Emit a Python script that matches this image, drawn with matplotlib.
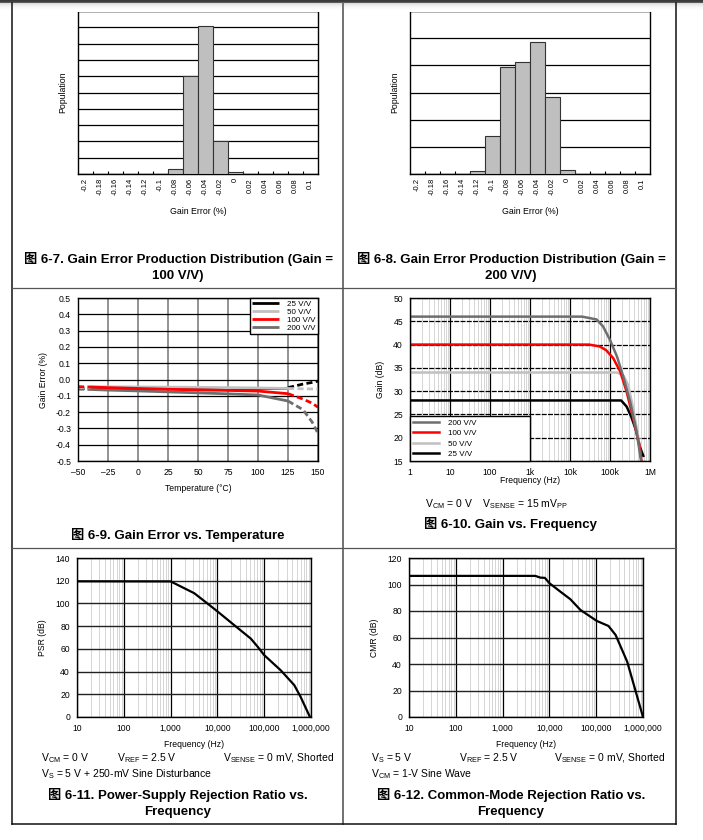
import matplotlib.pyplot as plt
import numpy as np
from matplotlib.lines import Line2D
from matplotlib.ticker import LogLocator, NullFormatter

plt.rcParams['font.family'] = ['Liberation Sans', 'Noto Sans CJK SC']
plt.rcParams['mathtext.default'] = 'regular'
plt.rcParams['axes.linewidth'] = 1.0

W, H = 703, 840

# ---- data ----
bin_labels = ['-0.2', '-0.18', '-0.16', '-0.14', '-0.12', '-0.1', '-0.08', '-0.06',
              '-0.04', '-0.02', '0', '0.02', '0.04', '0.06', '0.08', '0.1']
pop_gain100 = [0, 0, 0, 0, 0, 0, 0.3, 6.0, 9.1, 2.0, 0.1, 0, 0, 0, 0, 0]
pop_gain200 = [0, 0, 0, 0, 0.12, 1.41, 3.94, 4.13, 4.85, 2.85, 0.16, 0, 0, 0, 0, 0]

temp_c = [-50, -40, -25, 0, 25, 50, 75, 100, 125, 137.5, 145, 150]
ge_25 = [-0.05, -0.05, -0.05, -0.05, -0.05, -0.05, -0.05, -0.05, -0.05, -0.028, -0.018, -0.01]
ge_50 = [-0.045, -0.045, -0.045, -0.046, -0.047, -0.048, -0.05, -0.052, -0.055, -0.057, -0.058, -0.058]
ge_100 = [-0.044, -0.046, -0.05, -0.055, -0.06, -0.064, -0.067, -0.071, -0.087, -0.12, -0.145, -0.17]
ge_200 = [-0.059, -0.061, -0.065, -0.07, -0.076, -0.082, -0.088, -0.095, -0.132, -0.185, -0.26, -0.33]

f_g200 = [1, 2e4, 4.6e4, 6.7e4, 1e5, 1.5e5, 2.15e5, 3.2e5, 4.6e5, 6e5]
g_200 = [46, 46, 45.4, 43.9, 41.0, 37.4, 33.1, 27.7, 21.3, 15]
f_g100 = [1, 3e4, 5.5e4, 8e4, 1.2e5, 1.8e5, 2.6e5, 3.8e5, 5.6e5, 6.1e5]
g_100 = [40, 40, 39.6, 38.8, 37.1, 34.2, 29.9, 24.2, 17.7, 15]
f_g50 = [1, 1.5e5, 2.15e5, 2.85e5, 3.8e5, 5e5, 6.1e5]
g_50 = [34, 34, 33.4, 31.3, 26.3, 20.5, 15]
f_g25 = [1, 1.9e5, 2.6e5, 3.4e5, 4.6e5, 5.6e5, 6.8e5]
g_25 = [28, 28, 26.7, 24.5, 21.3, 18, 16.1]

f_psr = [10, 1000, 3.2e3, 6.1e3, 1e4, 2.27e4, 5.18e4, 7.2e4, 1e5, 2.27e5, 4.4e5, 6e5, 9.5e5]
psr_db = [119.5, 119.4, 109, 100, 93, 81, 69, 62, 54.5, 41, 28, 17.7, 0]

f_cmr = [10, 5e3, 6.4e3, 8e3, 1e4, 1.7e4, 2.8e4, 4.6e4, 1.03e5, 1.83e5, 2.6e5, 4.6e5, 1e6]
cmr_db = [106.5, 106.5, 105.2, 105, 101, 94.7, 88.9, 80.8, 72.5, 68.7, 61.9, 41.7, 0]

freq_ticks = [10, 100, 1000, 10000, 100000, 1000000]
freq_labels = ['10', '100', '1,000', '10,000', '100,000', '1,000,000']
gain_freq_ticks = [1, 10, 100, 1e3, 1e4, 1e5, 1e6]
gain_freq_labels = ['1', '10', '100', '1k', '10k', '100k', '1M']

DARK = '#6e6e6e'
LIGHT = '#c0c0c0'
TICK_FS = 6.2
CAP_FS = 9.5
COND_FS = 7.5

fig = plt.figure(figsize=(W / 100, H / 100), dpi=100)


def px_axes(x0, y0, x1, y1):
    return fig.add_axes([x0 / W, 1 - y1 / H, (x1 - x0) / W, (y1 - y0) / H])


def ftext(x, y, s, **kw):
    kw.setdefault('ha', 'center')
    kw.setdefault('va', 'center')
    fig.text(x / W, 1 - y / H, s, **kw)


def fline(xs, ys, **kw):
    fig.add_artist(Line2D([x / W for x in xs], [1 - y / H for y in ys], **kw))


def draw_hist(ax, pop, ymax):
    idx = np.arange(len(bin_labels))
    ax.bar(idx, pop, width=1.0, color='#bfbfbf', edgecolor='#333333', linewidth=0.8, zorder=3)
    ax.set_xlim(-0.5, len(bin_labels) - 0.5)
    ax.set_ylim(0, ymax)
    ax.set_yticks(np.arange(0, ymax + 1))
    ax.set_yticklabels([])
    ax.tick_params(axis='y', length=0)
    ax.yaxis.grid(True, color='black', lw=0.9)
    ax.set_axisbelow(True)
    ax.set_xticks(idx)
    ax.set_xticklabels(bin_labels, rotation=90, fontsize=5.5)
    ax.set_xticks(idx[1:] - 0.5, minor=True)
    ax.tick_params(axis='x', which='major', length=0, pad=3)
    ax.tick_params(axis='x', which='minor', length=2, direction='in', width=0.8)
    ax.set_xlabel('Gain Error (%)', fontsize=6.3, labelpad=8)
    ax.set_ylabel('Population', fontsize=6.3, labelpad=4)


def log_grid(ax):
    ax.set_xscale('log')
    ax.xaxis.set_minor_locator(LogLocator(base=10, subs=np.arange(2, 10)))
    ax.xaxis.set_minor_formatter(NullFormatter())
    ax.grid(True, which='minor', axis='x', color='#cfcfcf', lw=0.6)
    ax.grid(True, which='major', axis='x', color='black', lw=0.9)
    ax.tick_params(which='both', length=0, labelsize=TICK_FS, pad=5)
    ax.set_axisbelow(True)


# ---------- 6-7 ----------
ax1 = px_axes(78, 11, 318, 174)
draw_hist(ax1, pop_gain100, 10)
ftext(178, 259, '图 6-7. Gain Error Production Distribution (Gain =', fontsize=CAP_FS, fontweight='bold')
ftext(178, 276, '100 V/V)', fontsize=CAP_FS, fontweight='bold')

# ---------- 6-8 ----------
ax2 = px_axes(410, 11, 650, 174)
draw_hist(ax2, pop_gain200, 6)
ftext(511, 259, '图 6-8. Gain Error Production Distribution (Gain =', fontsize=CAP_FS, fontweight='bold')
ftext(511, 276, '200 V/V)', fontsize=CAP_FS, fontweight='bold')

# ---------- 6-9 ----------
ax3 = px_axes(78, 298, 318, 461)
series_t = [(ge_25, 'black', '25 V/V'), (ge_200, DARK, '200 V/V'),
            (ge_50, LIGHT, '50 V/V'), (ge_100, 'red', '100 V/V')]
handles = {}
for vals, col, lab in series_t:
    h, = ax3.plot(temp_c[1:9], vals[1:9], color=col, lw=2.0, solid_capstyle='butt')
    ax3.plot(temp_c[:2], vals[:2], color=col, lw=2.0, ls=(0, (2.2, 1.2)))
    ax3.plot(temp_c[8:], vals[8:], color=col, lw=2.0, ls=(0, (2.2, 1.2)))
    handles[lab] = h
ax3.set_xlim(-50, 150)
ax3.set_ylim(-0.5, 0.5)
ax3.set_xticks(np.arange(-50, 151, 25))
ax3.set_xticklabels([('–%d' % -t) if t < 0 else '%d' % t for t in np.arange(-50, 151, 25)])
yt = np.round(np.arange(-0.5, 0.51, 0.1), 1)
ax3.set_yticks(yt)
ax3.set_yticklabels(['%.1f' % v if v != 0 else '0.0' for v in yt])
ax3.grid(True, axis='x', color='#808080', lw=1.2)
ax3.grid(True, axis='y', color='black', lw=0.9)
ax3.set_axisbelow(True)
ax3.tick_params(length=0, labelsize=TICK_FS, pad=5)
ax3.set_xlabel('Temperature (°C)', fontsize=TICK_FS, labelpad=5)
ax3.set_ylabel('Gain Error (%)', fontsize=TICK_FS, labelpad=6)
order = ['25 V/V', '50 V/V', '100 V/V', '200 V/V']
leg = ax3.legend([handles[k] for k in order], order, loc='upper right', fontsize=5.8,
                 frameon=True, fancybox=False, framealpha=1, edgecolor='black',
                 borderaxespad=0, handlelength=3.3, handletextpad=1.1,
                 labelspacing=0.05, borderpad=0.25)
leg.get_frame().set_linewidth(1.0)
ftext(178, 535, '图 6-9. Gain Error vs. Temperature', fontsize=CAP_FS, fontweight='bold')

# ---------- 6-10 ----------
ax4 = px_axes(410, 298, 650, 461)
log_grid(ax4)
ax4.grid(True, axis='y', color='black', lw=0.9, ls=(0, (4, 1)))
hg = {}
for f, g, col, lab in [(f_g25, g_25, 'black', '25 V/V'), (f_g50, g_50, LIGHT, '50 V/V'),
                       (f_g100, g_100, 'red', '100 V/V'), (f_g200, g_200, DARK, '200 V/V')]:
    hg[lab], = ax4.plot(f, g, color=col, lw=1.8)
ax4.set_xlim(1, 1e6)
ax4.set_ylim(15, 50)
ax4.set_xticks(gain_freq_ticks)
ax4.set_xticklabels(gain_freq_labels)
ax4.set_yticks(np.arange(15, 51, 5))
ax4.set_xlabel('Frequency (Hz)', fontsize=TICK_FS, labelpad=-1)
ax4.set_ylabel('Gain (dB)', fontsize=TICK_FS, labelpad=6)
order4 = ['200 V/V', '100 V/V', '50 V/V', '25 V/V']
leg4 = ax4.legend([hg[k] for k in order4], order4, loc='lower left',
                  bbox_to_anchor=(0, 0, 0.5, 0.29), mode='expand', fontsize=5.8,
                  frameon=True, fancybox=False, framealpha=1, edgecolor='black',
                  borderaxespad=0, handlelength=3.3, handletextpad=1.1,
                  labelspacing=0.35, borderpad=0.35)
leg4.get_frame().set_linewidth(1.0)
ftext(496, 504, r'V$_{CM}$ = 0 V    V$_{SENSE}$ = 15 mV$_{PP}$', fontsize=COND_FS)
ftext(510, 524, '图 6-10. Gain vs. Frequency', fontsize=CAP_FS, fontweight='bold')

# ---------- 6-11 ----------
ax5 = px_axes(77, 558, 311, 717)
log_grid(ax5)
ax5.grid(True, axis='y', color='#222222', lw=1.0)
ax5.plot(f_psr, psr_db, color='black', lw=1.6)
ax5.set_xlim(10, 1e6)
ax5.set_ylim(0, 140)
ax5.set_xticks(freq_ticks)
ax5.set_xticklabels(freq_labels)
ax5.set_yticks(np.arange(0, 141, 20))
ax5.set_xlabel('Frequency (Hz)', fontsize=TICK_FS, labelpad=5)
ax5.set_ylabel('PSR (dB)', fontsize=TICK_FS, labelpad=6)
ftext(41, 758, r'V$_{CM}$ = 0 V', fontsize=COND_FS, ha='left')
ftext(117, 758, r'V$_{REF}$ = 2.5 V', fontsize=COND_FS, ha='left')
ftext(223, 758, r'V$_{SENSE}$ = 0 mV, Shorted', fontsize=COND_FS, ha='left')
ftext(41, 774, r'V$_{S}$ = 5 V + 250-mV Sine Disturbance', fontsize=COND_FS, ha='left')
ftext(178, 795, '图 6-11. Power-Supply Rejection Ratio vs.', fontsize=CAP_FS, fontweight='bold')
ftext(178, 812, 'Frequency', fontsize=CAP_FS, fontweight='bold')

# ---------- 6-12 ----------
ax6 = px_axes(409, 558, 643, 717)
log_grid(ax6)
ax6.grid(True, axis='y', color='#222222', lw=1.0)
ax6.plot(f_cmr, cmr_db, color='black', lw=1.6)
ax6.set_xlim(10, 1e6)
ax6.set_ylim(0, 120)
ax6.set_xticks(freq_ticks)
ax6.set_xticklabels(freq_labels)
ax6.set_yticks(np.arange(0, 121, 20))
ax6.set_xlabel('Frequency (Hz)', fontsize=TICK_FS, labelpad=5)
ax6.set_ylabel('CMR (dB)', fontsize=TICK_FS, labelpad=6)
ftext(371, 758, r'V$_{S}$ = 5 V', fontsize=COND_FS, ha='left')
ftext(459, 758, r'V$_{REF}$ = 2.5 V', fontsize=COND_FS, ha='left')
ftext(554, 758, r'V$_{SENSE}$ = 0 mV, Shorted', fontsize=COND_FS, ha='left')
ftext(371, 774, r'V$_{CM}$ = 1-V Sine Wave', fontsize=COND_FS, ha='left')
ftext(511, 795, '图 6-12. Common-Mode Rejection Ratio vs.', fontsize=CAP_FS, fontweight='bold')
ftext(511, 812, 'Frequency', fontsize=CAP_FS, fontweight='bold')

# ---------- table frame ----------
band = fig.add_axes([0, 1 - 12 / H, 1, 12 / H])
shade = np.array([0.22, 0.25, 0.35, 0.86, 0.9, 0.93, 0.95, 0.97, 0.98, 0.99, 1.0, 1.0])
band.imshow(shade.reshape(-1, 1), cmap='gray', vmin=0, vmax=1,
            aspect='auto', extent=(0, 1, 0, 1))
band.axis('off')
fline([12, 12], [3, 824], color='#111111', lw=1.1)
fline([676, 676], [3, 824], color='#111111', lw=1.1)
fline([343, 343], [3, 824], color='#666666', lw=1.3)
fline([12, 676], [288, 288], color='#555555', lw=0.9)
fline([12, 676], [548, 548], color='#555555', lw=0.9)
fline([12, 676], [824, 824], color='#111111', lw=1.1)

fig.savefig('out.png', dpi=100)
